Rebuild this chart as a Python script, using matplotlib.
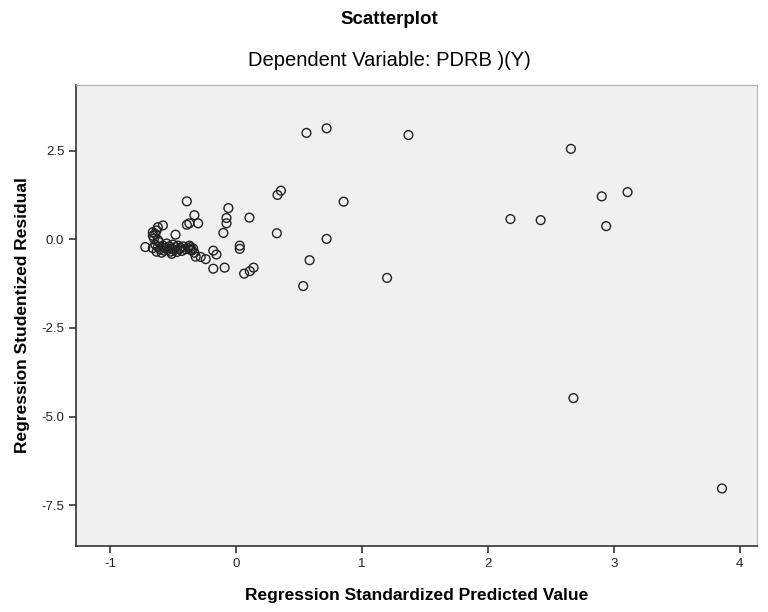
import matplotlib
matplotlib.use("Agg")
import matplotlib.pyplot as plt

# Regression standardized predicted value (x) and studentized residual (y)
pred = [
    0.56, 0.72, 1.37, 0.357, 0.33, 0.855, 0.325, 0.72, 0.585, 0.534, 1.20,
    2.66, 2.905, 3.11, 2.18, 2.42, 2.94, 2.68, 3.86,
    -0.39, -0.33, -0.30, -0.39, -0.37, -0.06, -0.075, -0.075, -0.10, 0.107,
    -0.58, -0.62, -0.66, -0.66, -0.48, -0.72, -0.51, -0.36, -0.35, -0.32,
    -0.24, -0.18, -0.155, -0.18, -0.09, 0.03, 0.03, 0.065, 0.11, 0.14,
    -0.64, -0.62, -0.60, -0.58, -0.57, -0.56, -0.55, -0.54, -0.53, -0.52,
    -0.51, -0.50, -0.49, -0.48, -0.47, -0.46, -0.45, -0.44, -0.43, -0.42,
    -0.40, -0.38, -0.37, -0.36, -0.34, -0.33, -0.66, -0.63, -0.61, -0.59,
    -0.65, -0.63, -0.64, -0.62, -0.28,
]
resid = [
    3.00, 3.13, 2.94, 1.37, 1.25, 1.06, 0.17, 0.01, -0.59, -1.32, -1.09,
    2.55, 1.21, 1.33, 0.57, 0.54, 0.37, -4.48, -7.03,
    1.07, 0.68, 0.45, 0.41, 0.45, 0.88, 0.60, 0.45, 0.18, 0.61,
    0.39, 0.34, 0.20, 0.10, 0.13, -0.22, -0.41, -0.22, -0.32, -0.49,
    -0.56, -0.32, -0.43, -0.83, -0.80, -0.18, -0.27, -0.97, -0.90, -0.80,
    -0.15, -0.22, -0.28, -0.18, -0.32, -0.25, -0.12, -0.30, -0.20, -0.35,
    -0.26, -0.15, -0.30, -0.22, -0.36, -0.18, -0.28, -0.24, -0.33, -0.20,
    -0.28, -0.25, -0.18, -0.30, -0.26, -0.38, -0.25, -0.35, -0.08, -0.38,
    0.02, 0.25, 0.15, -0.02, -0.50,
]

xticks = [-1, 0, 1, 2, 3, 4]
yticks = [2.5, 0.0, -2.5, -5.0, -7.5]
ytick_labels = ["2.5", "0.0", "-2.5", "-5.0", "-7.5"]

plt.rcParams['font.family'] = ['Liberation Sans', 'DejaVu Sans']

fig = plt.figure(figsize=(7.68, 6.12), dpi=100)
ax = fig.add_axes([0.099, 0.108, 0.887, 0.753])
ax.set_facecolor('#f0f0f0')

ax.scatter(pred, resid, s=40, facecolors='none', edgecolors='#222222',
           linewidths=1.0, zorder=3)

ax.set_xlim(-1.27, 4.14)
ax.set_ylim(-8.65, 4.35)
ax.set_xticks(xticks)
ax.set_xticklabels([str(t) for t in xticks])
ax.set_yticks(yticks)
ax.set_yticklabels(ytick_labels)
ax.tick_params(direction='out', length=5, width=1.2, colors='#333333',
               labelsize=9.5, labelcolor='#222222')

for side in ['left', 'bottom']:
    ax.spines[side].set_color('#333333')
    ax.spines[side].set_linewidth(1.2)
for side in ['top', 'right']:
    ax.spines[side].set_color('#b0b0b0')
    ax.spines[side].set_linewidth(0.8)

ax.set_ylabel('Regression Studentized Residual', fontsize=12.5,
              fontweight='bold', labelpad=8)
ax.set_xlabel('Regression Standardized Predicted Value', fontsize=12.5,
              fontweight='bold', labelpad=13)

fig.text(389 / 768, 1 - 20 / 612, 'Scatterplot', ha='center', va='center',
         fontsize=13.5, fontweight='bold')
fig.text(389 / 768, 1 - 60 / 612, 'Dependent Variable: PDRB )(Y)', ha='center',
         va='center', fontsize=14.5)

fig.savefig('out.png', dpi=100)
